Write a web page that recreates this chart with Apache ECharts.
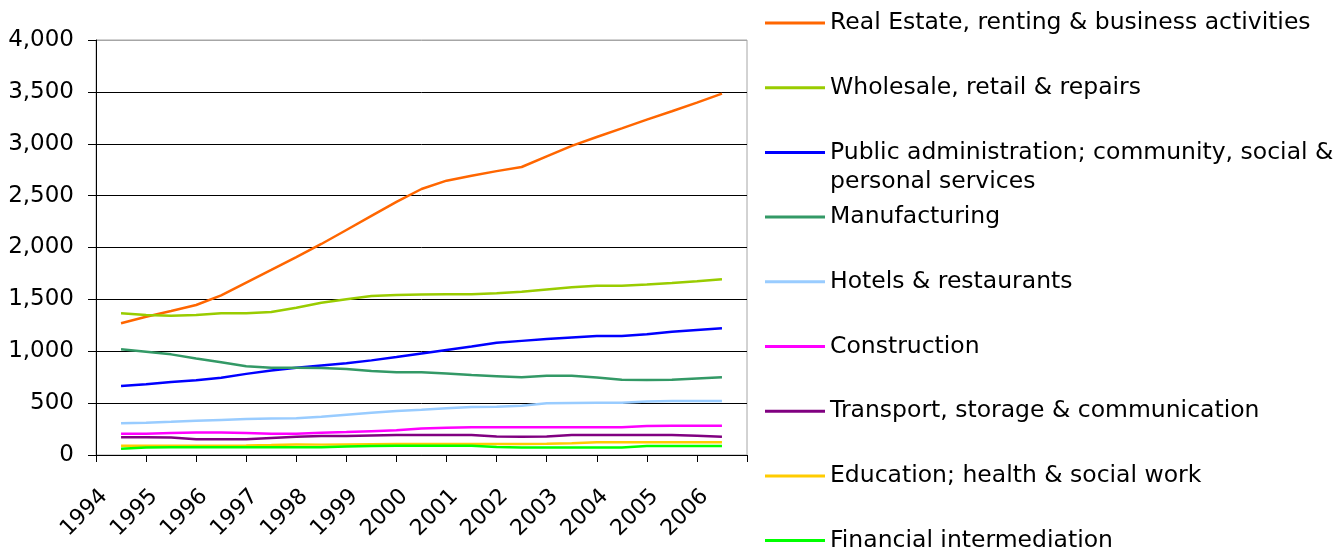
<!DOCTYPE html>
<html>
<head>
<meta charset="utf-8">
<script src="https://cdn.jsdelivr.net/npm/echarts@6/dist/echarts.min.js"></script>
<style>
  html, body { margin: 0; padding: 0; background: #fff; }
  #main { width: 1340px; height: 549px; }
</style>
</head>
<body>
<div id="main"></div>
<script>
// half-year positions of the points (x values, in years)
var periods = [1994.5, 1995, 1995.5, 1996, 1996.5, 1997, 1997.5, 1998, 1998.5, 1999, 1999.5, 2000, 2000.5,
               2001, 2001.5, 2002, 2002.5, 2003, 2003.5, 2004, 2004.5, 2005, 2005.5, 2006, 2006.5];
var yearTicks = [1994, 1995, 1996, 1997, 1998, 1999, 2000, 2001, 2002, 2003, 2004, 2005, 2006];

var seriesNames = [
    'Real Estate, renting & business activities',
    'Wholesale, retail & repairs',
    'Public administration; community, social & personal services',
    'Manufacturing',
    'Hotels & restaurants',
    'Construction',
    'Transport, storage & communication',
    'Education; health & social work',
    'Financial intermediation'
];
var colors = ['#FF6600', '#99CC00', '#0000FF', '#339966', '#99CCFF', '#FF00FF', '#800080', '#FFCC00', '#00FF00'];

var realEstate    = [1270, 1332, 1388, 1446, 1538, 1662, 1784, 1908, 2034, 2169, 2304, 2439, 2564,
                     2644, 2691, 2736, 2776, 2879, 2980, 3065, 3148, 3232, 3313, 3397, 3483];
var wholesale     = [1366, 1350, 1341, 1350, 1366, 1366, 1378, 1420, 1468, 1502, 1533, 1542, 1548,
                     1549, 1549, 1560, 1574, 1595, 1616, 1632, 1632, 1644, 1658, 1675, 1694];
var publicAdmin   = [665, 683, 703, 720, 745, 782, 815, 840, 862, 884, 912, 944, 978,
                     1012, 1045, 1082, 1100, 1118, 1133, 1147, 1147, 1163, 1188, 1205, 1221];
var manufacturing = [1019, 995, 970, 930, 893, 855, 840, 840, 838, 830, 810, 797, 797,
                     785, 771, 760, 749, 764, 764, 748, 725, 723, 725, 738, 749];
var hotels        = [305, 312, 320, 330, 338, 346, 352, 354, 368, 388, 408, 425, 435,
                     450, 462, 466, 475, 498, 502, 504, 504, 515, 520, 520, 520];
var construction  = [205, 205, 212, 216, 216, 212, 205, 205, 215, 222, 230, 238, 255,
                     262, 267, 267, 267, 267, 267, 267, 267, 280, 282, 282, 282];
var transport     = [170, 170, 168, 152, 151, 151, 165, 175, 183, 182, 188, 193, 193,
                     193, 192, 178, 177, 178, 193, 193, 193, 193, 193, 185, 177];
var education     = [88, 88, 88, 90, 90, 92, 96, 102, 100, 102, 104, 106, 106,
                     106, 106, 106, 106, 108, 113, 122, 122, 122, 122, 122, 122];
var financial     = [60, 72, 74, 74, 74, 74, 74, 74, 75, 82, 86, 88, 89,
                     90, 90, 76, 72, 72, 72, 72, 72, 86, 87, 87, 87];

var allValues = [realEstate, wholesale, publicAdmin, manufacturing, hotels, construction, transport, education, financial];

var FONT = 'DejaVu Sans, sans-serif';
var LH = 29;
var myChart = echarts.init(document.getElementById('main'));

// one legend per entry so the rows keep Excel's even spacing
var legends = seriesNames.map(function (name, i) {
    var center = 23 + 64.7 * i;
    var twoLines = name.indexOf('Public') === 0;
    return {
        orient: 'vertical',
        left: 765,
        top: twoLines ? center - LH * 1.5 : center - LH / 2,
        padding: 0,
        itemGap: 0,
        itemWidth: 60,
        itemHeight: 3,
        icon: 'rect',
        selectedMode: false,
        data: [name],
        formatter: function (n) {
            // empty first line keeps the marker level with the first text line
            return n.indexOf('Public') === 0 ? ' \nPublic administration; community, social &\npersonal services' : n;
        },
        textStyle: {
            fontFamily: FONT,
            fontSize: 23.5,
            color: '#000',
            lineHeight: LH
        }
    };
});

myChart.setOption({
    animation: false,
    backgroundColor: '#fff',
    legend: legends,
    grid: [
        {left: 96, right: 593, top: 40, bottom: 94, show: true, borderColor: '#A6A6A6', borderWidth: 1},
        // twin grid 8px to the right, only carries the slanted year labels (Excel sets them right of the tick)
        {left: 104, right: 585, top: 40, bottom: 94}
    ],
    xAxis: [{
        type: 'value',
        gridIndex: 0,
        min: 1994, max: 2007, interval: 1,
        axisLine: {lineStyle: {color: '#000', width: 1}},
        axisTick: {show: true, length: 7, lineStyle: {color: '#000'}},
        splitLine: {show: false},
        axisLabel: {show: false}
    }, {
        type: 'value',
        gridIndex: 1,
        min: 1994, max: 2007, interval: 1,
        axisLine: {show: false},
        axisTick: {show: false},
        splitLine: {show: false},
        axisLabel: {
            rotate: 45,
            margin: 38,
            fontFamily: FONT,
            fontSize: 22,
            color: '#000',
            showMinLabel: true,
            showMaxLabel: false,
            formatter: function (v) { return yearTicks.indexOf(v) >= 0 ? String(v) : ''; }
        }
    }],
    yAxis: [{
        type: 'value',
        gridIndex: 0,
        min: 0, max: 4000, interval: 500,
        axisLine: {show: true, lineStyle: {color: '#000', width: 1}},
        axisTick: {show: true, length: 8, lineStyle: {color: '#000'}},
        splitLine: {
            show: true,
            lineStyle: {color: ['#000', '#000', '#000', '#000', '#000', '#000', '#000', '#000', '#A6A6A6'], width: 1}
        },
        axisLabel: {
            margin: 22,
            fontFamily: FONT,
            fontSize: 23,
            color: '#000',
            formatter: function (v) { return v.toLocaleString('en-US'); }
        }
    }, {
        type: 'value',
        gridIndex: 1,
        min: 0, max: 4000,
        show: false
    }],
    series: allValues.map(function (vals, i) {
        return {
            name: seriesNames[i],
            type: 'line',
            xAxisIndex: 0,
            yAxisIndex: 0,
            color: colors[i],
            showSymbol: false,
            symbol: 'none',
            lineStyle: {width: 2.5, color: colors[i]},
            itemStyle: {color: colors[i]},
            data: vals.map(function (v, j) { return [periods[j], v]; })
        };
    })
});
</script>
</body>
</html>
